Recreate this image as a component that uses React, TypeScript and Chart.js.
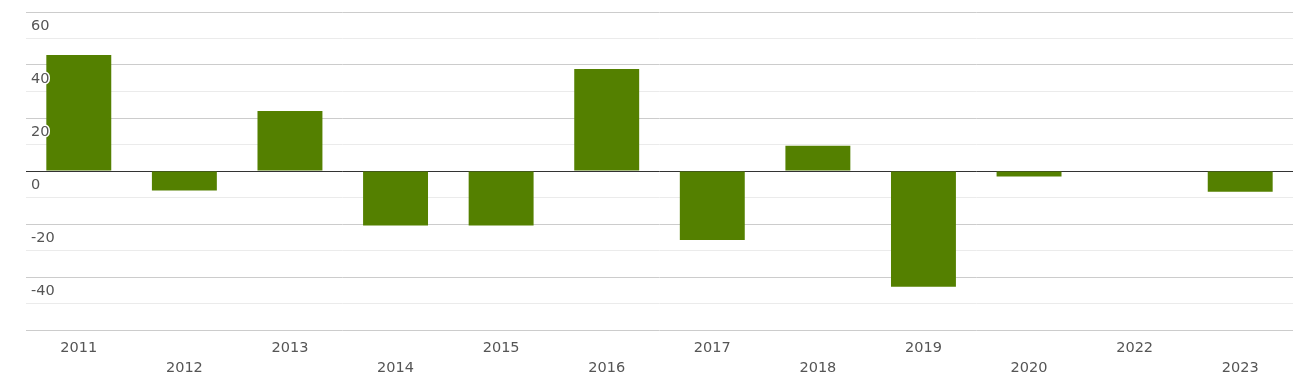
import React, { useEffect, useRef } from "react";
import { Chart, registerables } from "chart.js";

Chart.register(...registerables);

const categories = ["2011", "2012", "2013", "2014", "2015", "2016", "2017", "2018", "2019", "2020", "2022", "2023"];
const values = [43.8, -7.4, 22.6, -20.6, -20.6, 38.5, -26.0, 9.5, -43.7, -2.1, 0, -7.8];
const yMin = -60;
const yMax = 60;
const yStep = 10;
const yLabelStep = 20;

export default function App() {
  const ref = useRef<HTMLCanvasElement | null>(null);

  useEffect(() => {
    if (!ref.current) return;
    const font = { family: "'DejaVu Sans', sans-serif", size: 14.5, lineHeight: "20px" };
    const chart = new Chart(ref.current, {
      type: "bar",
      data: {
        labels: categories,
        datasets: [
          {
            data: values,
            backgroundColor: "#548000",
            borderWidth: 0,
            barPercentage: 0.615,
            categoryPercentage: 1,
          },
        ],
      },
      options: {
        animation: false,
        responsive: false,
        maintainAspectRatio: false,
        layout: { padding: { top: 12, right: 0, left: 0, bottom: 0 } },
        plugins: { legend: { display: false }, tooltip: { enabled: false } },
        scales: {
          x: {
            grid: { display: false, drawTicks: false },
            border: { display: false },
            ticks: {
              color: "#555",
              font,
              padding: 8,
              maxRotation: 0,
              autoSkip: false,
              callback: (v: any, i: number) => (i % 2 === 0 ? [categories[i], ""] : ["", categories[i]]),
            },
            afterFit: (s: any) => {
              s.height = 54;
              s.paddingLeft = 0;
              s.paddingRight = 0;
            },
          },
          y: {
            min: yMin,
            max: yMax,
            border: { display: false },
            grid: {
              drawTicks: false,
              lineWidth: 1,
              color: (ctx: any) => {
                const v = ctx.tick ? ctx.tick.value : 0;
                if (v === 0) return "#333";
                if (v % yLabelStep === 0) return "#cccccc";
                return "#ebebeb";
              },
            },
            ticks: {
              stepSize: yStep,
              mirror: true,
              padding: 5,
              labelOffset: 14,
              color: "#555",
              font,
              z: 1,
              textStrokeColor: "#fff",
              textStrokeWidth: 3,
              callback: (v: any) => (v % yLabelStep === 0 && v !== yMin ? String(v) : ""),
            },
            afterFit: (s: any) => {
              s.width = 26;
              s.paddingTop = 0;
              s.paddingBottom = 0;
            },
          },
        },
      },
    });
    return () => chart.destroy();
  }, []);

  return (
    <div style={{ position: "absolute", left: 0, top: 0, width: 1293, height: 384 }}>
      <canvas ref={ref} width={1293} height={384} style={{ display: "block", width: 1293, height: 384 }} />
    </div>
  );
}
